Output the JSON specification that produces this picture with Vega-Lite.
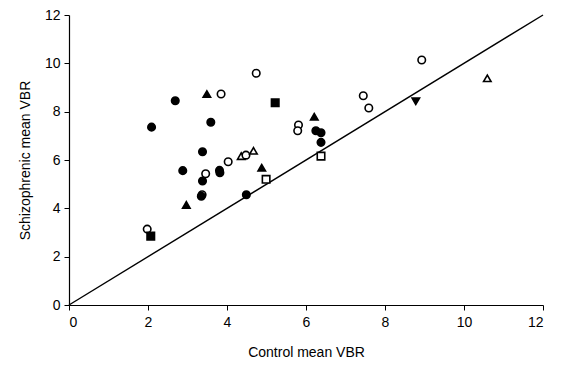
{
  "$schema": "https://vega.github.io/schema/vega-lite/v6.json",
  "width": 474,
  "height": 290,
  "autosize": "none",
  "padding": {"left": 69, "top": 15, "right": 19, "bottom": 61},
  "background": "white",
  "config": {
    "view": {"stroke": null},
    "font": "Liberation Sans",
    "axis": {
      "grid": false,
      "domainColor": "black",
      "domainWidth": 1.2,
      "tickColor": "black",
      "tickSize": 5,
      "labelColor": "black",
      "titleColor": "black",
      "labelFontSize": 14,
      "titleFontSize": 14,
      "titleFontWeight": "normal",
      "labelFont": "Liberation Sans",
      "titleFont": "Liberation Sans"
    }
  },
  "layer": [
    {
      "data": {"values": [{"x": 0, "y": 0}, {"x": 12, "y": 12}]},
      "mark": {"type": "line", "color": "black", "strokeWidth": 1.4},
      "encoding": {
        "x": {"field": "x", "type": "quantitative", "scale": {"domain": [0, 12]}, "axis": {"values": [0,2,4,6,8,10,12], "title": "Control mean VBR", "titlePadding": 16, "labelPadding": 5}},
        "y": {"field": "y", "type": "quantitative", "scale": {"domain": [0, 12]}, "axis": {"values": [0,2,4,6,8,10,12], "title": "Schizophrenic mean VBR", "titlePadding": 12, "labelPadding": 4}}
      }
    },
    {
      "data": {"values": [
        {"x": 1.98, "y": 3.14, "shape": "circle", "fill": "open"},
        {"x": 2.07, "y": 2.85, "shape": "square", "fill": "filled"},
        {"x": 2.09, "y": 7.36, "shape": "circle", "fill": "filled"},
        {"x": 2.69, "y": 8.45, "shape": "circle", "fill": "filled"},
        {"x": 2.88, "y": 5.56, "shape": "circle", "fill": "filled"},
        {"x": 2.97, "y": 4.14, "shape": "triangle-up", "fill": "filled"},
        {"x": 3.37, "y": 4.56, "shape": "circle", "fill": "open"},
        {"x": 3.35, "y": 4.5, "shape": "circle", "fill": "filled"},
        {"x": 3.38, "y": 5.13, "shape": "circle", "fill": "filled"},
        {"x": 3.38, "y": 6.34, "shape": "circle", "fill": "filled"},
        {"x": 3.46, "y": 5.43, "shape": "circle", "fill": "open"},
        {"x": 3.49, "y": 8.73, "shape": "triangle-up", "fill": "filled"},
        {"x": 3.59, "y": 7.56, "shape": "circle", "fill": "filled"},
        {"x": 3.81, "y": 5.57, "shape": "circle", "fill": "filled"},
        {"x": 3.82, "y": 5.47, "shape": "circle", "fill": "filled"},
        {"x": 3.85, "y": 8.73, "shape": "circle", "fill": "open"},
        {"x": 4.03, "y": 5.93, "shape": "circle", "fill": "open"},
        {"x": 4.36, "y": 6.16, "shape": "triangle-up", "fill": "open"},
        {"x": 4.48, "y": 6.2, "shape": "circle", "fill": "open"},
        {"x": 4.67, "y": 6.38, "shape": "triangle-up", "fill": "open"},
        {"x": 4.49, "y": 4.56, "shape": "circle", "fill": "filled"},
        {"x": 4.74, "y": 9.59, "shape": "circle", "fill": "open"},
        {"x": 4.88, "y": 5.68, "shape": "triangle-up", "fill": "filled"},
        {"x": 4.99, "y": 5.2, "shape": "square", "fill": "open"},
        {"x": 5.22, "y": 8.37, "shape": "square", "fill": "filled"},
        {"x": 5.81, "y": 7.45, "shape": "circle", "fill": "open"},
        {"x": 5.79, "y": 7.21, "shape": "circle", "fill": "open"},
        {"x": 6.21, "y": 7.79, "shape": "triangle-up", "fill": "filled"},
        {"x": 6.25, "y": 7.21, "shape": "circle", "fill": "filled"},
        {"x": 6.38, "y": 7.13, "shape": "circle", "fill": "filled"},
        {"x": 6.38, "y": 6.73, "shape": "circle", "fill": "filled"},
        {"x": 6.38, "y": 6.16, "shape": "square", "fill": "open"},
        {"x": 7.45, "y": 8.66, "shape": "circle", "fill": "open"},
        {"x": 7.59, "y": 8.15, "shape": "circle", "fill": "open"},
        {"x": 8.78, "y": 8.43, "shape": "triangle-down", "fill": "filled"},
        {"x": 8.93, "y": 10.14, "shape": "circle", "fill": "open"},
        {"x": 10.59, "y": 9.38, "shape": "triangle-up", "fill": "open"}
      ]},
      "mark": {"type": "point", "stroke": "black", "strokeWidth": 1.6, "size": 56, "opacity": 1},
      "encoding": {
        "x": {"field": "x", "type": "quantitative"},
        "y": {"field": "y", "type": "quantitative"},
        "shape": {"field": "shape", "type": "nominal", "scale": {"domain": ["circle", "square", "triangle-up", "triangle-down"], "range": ["circle", "square", "triangle-up", "triangle-down"]}, "legend": null},
        "fill": {"field": "fill", "type": "nominal", "scale": {"domain": ["filled", "open"], "range": ["black", "white"]}, "legend": null}
      }
    }
  ]
}
